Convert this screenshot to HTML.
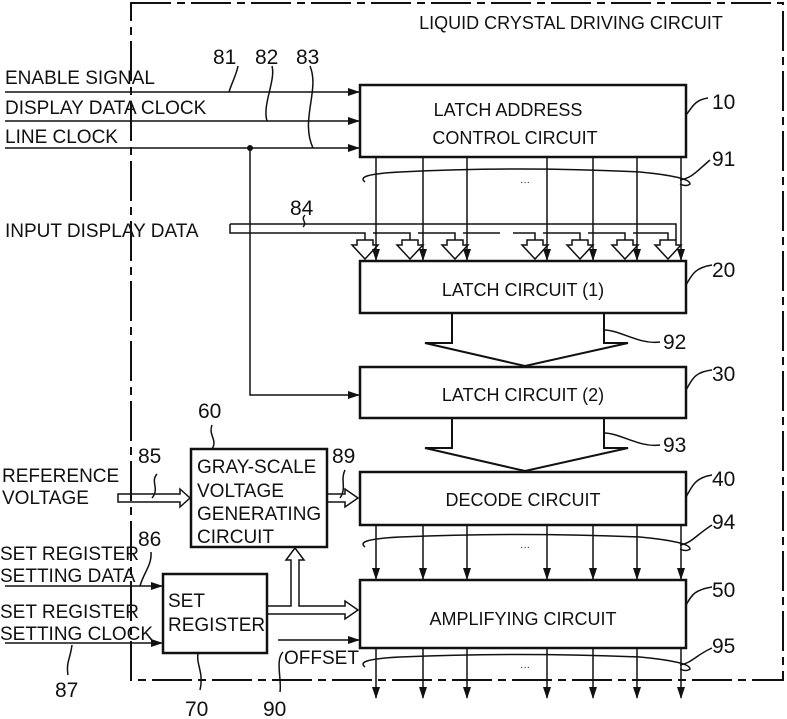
<!DOCTYPE html>
<html><head><meta charset="utf-8"><style>
body{margin:0;background:#fff}
svg{display:block}
text{font-family:"Liberation Sans",sans-serif;fill:#111}
</style></head><body>
<svg width="787" height="719" viewBox="0 0 787 719" xmlns="http://www.w3.org/2000/svg">
<defs>
<marker id="a" markerWidth="12" markerHeight="8" refX="11" refY="4" orient="auto" markerUnits="userSpaceOnUse"><path d="M0,0 L12,4 L0,8 Z" fill="#111"/></marker>
</defs>
<g fill="none" stroke="#111" stroke-width="2">
<path d="M131,3 H783 V680 H131 Z" stroke-dasharray="40,6,8,6"/>
<rect x="360" y="85" width="326" height="72" stroke-width="2.5"/>
<rect x="360" y="261" width="326" height="52" stroke-width="2.5"/>
<rect x="360" y="367" width="326" height="51" stroke-width="2.5"/>
<rect x="360" y="472" width="326" height="53" stroke-width="2.5"/>
<rect x="360" y="580" width="326" height="68" stroke-width="2.5"/>
<rect x="191" y="449" width="136" height="98" stroke-width="2.5"/>
<rect x="163" y="574" width="104" height="79" stroke-width="2.5"/>
</g>
<g stroke="#111" stroke-width="1.5" fill="none">
<line x1="5" y1="92" x2="359" y2="92" marker-end="url(#a)"/>
<line x1="5" y1="121" x2="359" y2="121" marker-end="url(#a)"/>
<line x1="5" y1="148" x2="359" y2="148" marker-end="url(#a)"/>
<path d="M250,148 V395 H359" marker-end="url(#a)"/>
<path d="M238,66 C236,76 232,82 229,92"/>
<path d="M272,66 C276,80 262,105 267,121"/>
<path d="M310,66 C320,90 300,120 313,148"/>
<path d="M305,215 C300,220 308,222 303,227"/>
<path d="M686,115 C692,108 694,100 708,98"/>
<path d="M686,285 C692,275 694,268 712,265"/>
<path d="M686,390 C692,380 694,372 712,370"/>
<path d="M686,497 C692,487 694,478 712,475"/>
<path d="M686,605 C692,595 694,590 712,587"/>
<path d="M604,330 C620,330 640,345 660,342"/>
<path d="M604,433 C620,433 640,448 660,445"/>
<path d="M680,180 C692,178 696,172 710,160"/>
<path d="M680,545 C692,543 696,535 712,525"/>
<path d="M680,665 C692,663 696,655 712,648"/>
<path d="M157,474 C150,482 160,488 152,498"/>
<path d="M151,552 C152,565 144,572 140,586"/>
<path d="M72,645 C70,660 66,662 68,675"/>
<path d="M198,653 C196,665 204,672 200,690"/>
<path d="M283,652 C275,660 282,680 280,692"/>
<path d="M345,470 C340,480 347,488 340,498"/>
<path d="M212,425 C208,435 218,440 212,449"/>
<path d="M365,182 C360,178 362,174 400,172 Q520,166 640,172 C680,176 690,180 690,184 C688,186 684,186 680,184"/>
<path d="M365,547 C360,543 362,539 400,537 Q520,532 640,537 C680,541 690,545 690,549 C688,551 684,551 680,549"/>
<path d="M365,667 C360,663 362,659 400,657 Q520,652 640,657 C680,661 690,665 690,669 C688,671 684,671 680,669"/>
<g marker-end="url(#a)">
<line x1="376" y1="157" x2="376" y2="260"/><line x1="423" y1="157" x2="423" y2="260"/><line x1="467" y1="157" x2="467" y2="260"/><line x1="547" y1="157" x2="547" y2="260"/><line x1="593" y1="157" x2="593" y2="260"/><line x1="637" y1="157" x2="637" y2="260"/><line x1="681" y1="157" x2="681" y2="260"/>
<line x1="376" y1="525" x2="376" y2="579"/><line x1="423" y1="525" x2="423" y2="579"/><line x1="467" y1="525" x2="467" y2="579"/><line x1="547" y1="525" x2="547" y2="579"/><line x1="593" y1="525" x2="593" y2="579"/><line x1="637" y1="525" x2="637" y2="579"/><line x1="681" y1="525" x2="681" y2="579"/>
<line x1="376" y1="648" x2="376" y2="698"/><line x1="423" y1="648" x2="423" y2="698"/><line x1="467" y1="648" x2="467" y2="698"/><line x1="547" y1="648" x2="547" y2="698"/><line x1="593" y1="648" x2="593" y2="698"/><line x1="637" y1="648" x2="637" y2="698"/><line x1="681" y1="648" x2="681" y2="698"/>
<line x1="140" y1="586" x2="162" y2="586"/>
<line x1="5" y1="643" x2="162" y2="643"/>
<line x1="278" y1="640" x2="359" y2="640"/>
</g>
<line x1="5" y1="586" x2="140" y2="586"/>
<path d="M230,224 H676 V240 M230,224 V233 H360"/>
<path d="M360,233 H365 V240 M373,233 H410 V240 M418,233 H455 V240 M463,233 H500 M513,233 H535 V240 M543,233 H580 V240 M588,233 H625 V240 M633,233 H668 V240"/>
<g stroke-width="1.5">
<path d="M357,240 h16 v5 h5 l-13,14 l-13,-14 h5 z"/>
<path d="M402,240 h16 v5 h5 l-13,14 l-13,-14 h5 z"/>
<path d="M447,240 h16 v5 h5 l-13,14 l-13,-14 h5 z"/>
<path d="M527,240 h16 v5 h5 l-13,14 l-13,-14 h5 z"/>
<path d="M572,240 h16 v5 h5 l-13,14 l-13,-14 h5 z"/>
<path d="M617,240 h16 v5 h5 l-13,14 l-13,-14 h5 z"/>
<path d="M660,240 h16 v5 h5 l-13,14 l-13,-14 h5 z"/>
</g>
<path d="M452,313 V343 H425 L525,366 L628,343 H604 V313" stroke-width="2"/>
<path d="M452,418 V448 H425 L525,471 L628,448 H604 V418" stroke-width="2"/>
<path d="M118,494 H180 V489 L190,498 L180,507 V502 H118 Z"/>
<path d="M327,494 H345 V489 L358,498 L345,507 V502 H327"/>
<path d="M267,606 H291 V560 H286 L295,548 L304,560 H299 V606 H345 V601 L358,610 L345,619 V614 H267"/>
</g>
<circle cx="250" cy="148" r="3" fill="#111"/>
<g font-size="18" text-anchor="middle">
<text x="571" y="29">LIQUID CRYSTAL DRIVING CIRCUIT</text>
<text x="508" y="116">LATCH ADDRESS</text>
<text x="515" y="144">CONTROL CIRCUIT</text>
<text x="523" y="296">LATCH CIRCUIT (1)</text>
<text x="523" y="401">LATCH CIRCUIT (2)</text>
<text x="523" y="506">DECODE CIRCUIT</text>
<text x="523" y="625">AMPLIFYING CIRCUIT</text>
<text x="525" y="185" font-size="10">···</text>
<text x="525" y="550" font-size="10">···</text>
<text x="525" y="670" font-size="10">···</text>
</g>
<g font-size="19">
<text x="5" y="84">ENABLE SIGNAL</text>
<text x="5" y="114">DISPLAY DATA CLOCK</text>
<text x="5" y="143">LINE CLOCK</text>
<text x="5" y="237">INPUT DISPLAY DATA</text>
<text x="2" y="482">REFERENCE</text>
<text x="2" y="504">VOLTAGE</text>
<text x="0" y="560">SET REGISTER</text>
<text x="0" y="582">SETTING DATA</text>
<text x="0" y="618">SET REGISTER</text>
<text x="0" y="640">SETTING CLOCK</text>
<text x="197" y="473">GRAY-SCALE</text>
<text x="197" y="497">VOLTAGE</text>
<text x="197" y="520">GENERATING</text>
<text x="197" y="543">CIRCUIT</text>
<text x="168" y="607">SET</text>
<text x="168" y="631">REGISTER</text>
<text x="284" y="664">OFFSET</text>
</g>
<g font-size="21">
<text x="213" y="64">81</text><text x="255" y="64">82</text><text x="296" y="64">83</text>
<text x="290" y="215">84</text>
<text x="712" y="109">10</text><text x="712" y="277">20</text><text x="712" y="381">30</text>
<text x="712" y="486">40</text><text x="712" y="597">50</text>
<text x="712" y="166">91</text><text x="663" y="349">92</text><text x="663" y="452">93</text>
<text x="712" y="529">94</text><text x="712" y="653">95</text>
<text x="198" y="418">60</text><text x="138" y="463">85</text><text x="332" y="463">89</text>
<text x="138" y="546">86</text><text x="55" y="697">87</text>
<text x="185" y="716">70</text><text x="263" y="716">90</text>
</g>
</svg>
</body></html>
